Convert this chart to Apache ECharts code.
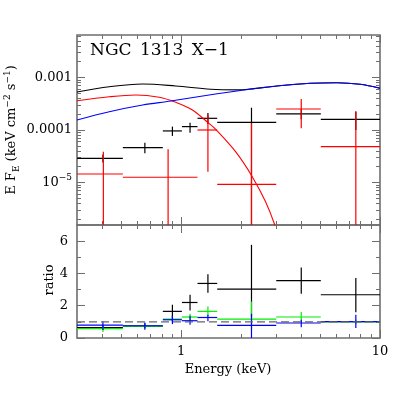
<!DOCTYPE html>
<html lang="en">
<head>
<meta charset="UTF-8">
<title>NGC 1313 X-1</title>
<script src="https://cdn.jsdelivr.net/npm/echarts@6.0.0/dist/echarts.min.js"></script>
<style>
  html, body { margin: 0; padding: 0; background: #fff; }
  #chart { width: 415px; height: 415px; }
</style>
</head>
<body>
<div id="chart"></div>
<script>
// energy bins (keV) of the black spectrum, also used by the ratio panel
var binLo  = [0.30, 0.51, 0.81, 1.01, 1.21, 1.52, 3.01, 5.04];
var binHi  = [0.51, 0.81, 1.01, 1.21, 1.52, 3.01, 5.04, 10.0];
var binMid = [0.405, 0.658, 0.905, 1.11, 1.365, 2.26, 4.02, 7.56];

// E F_E, black data (value, lower, upper); 1e-6 = runs off the bottom
var blackFlux = [2.89e-5, 4.6e-5, 9.6e-5, 1.16e-4, 1.67e-4, 1.40e-4, 2.02e-4, 1.6e-4];
var blackLow  = [2.4e-5, 3.6e-5, 7.7e-5, 8.9e-5, 1.3e-4, 1e-6, 1.6e-4, 1.0e-4];
var blackHigh = [3.4e-5, 5.73e-5, 1.16e-4, 1.38e-4, 2.1e-4, 2.66e-4, 2.5e-4, 2.2e-4];

// red data has coarser bins
var redBinLo  = [0.30, 0.51, 1.21, 1.52, 3.01, 5.04];
var redBinHi  = [0.51, 1.21, 1.52, 3.01, 5.04, 10.0];
var redBinMid = [0.407, 0.861, 1.365, 2.26, 4.02, 7.56];
var redFlux = [1.45e-5, 1.26e-5, 1.0e-4, 9.2e-6, 2.51e-4, 4.81e-5];
var redLow  = [1e-6, 1e-6, 1.61e-5, 1e-6, 1.08e-4, 1e-6];
var redHigh = [3.86e-5, 4.28e-5, 1.92e-4, 1.34e-4, 3.89e-4, 2.3e-4];

// model curves
var totalE = [0.3, 0.436, 0.641, 0.941, 1.41, 1.92, 2.32, 3.04, 4.46, 6.07, 7.94, 10];
var totalModel = [5.3e-4, 6.68e-4, 7.52e-4, 6.88e-4, 5.96e-4, 5.8e-4, 6.15e-4, 6.9e-4, 7.76e-4, 7.96e-4, 7.42e-4, 6.22e-4];
var diskE = [0.3, 0.436, 0.593, 0.776, 0.941, 1.14, 1.38, 1.49, 1.88, 2.28, 2.66, 2.96, 3.1];
var diskModel = [3.61e-4, 4.30e-4, 4.64e-4, 4.20e-4, 3.37e-4, 2.41e-4, 1.34e-4, 1.04e-4, 3.86e-5, 1.29e-5, 4.3e-6, 1.55e-6, 8e-7];
var powE = [0.3, 0.436, 0.641, 0.888, 1.49, 2.07, 3.04, 4.46, 6.07, 7.94, 10];
var powModel = [1.55e-4, 2.23e-4, 2.99e-4, 3.56e-4, 4.85e-4, 5.78e-4, 6.89e-4, 7.76e-4, 7.96e-4, 7.42e-4, 6.22e-4];

// ratio panel
var ratioBlack     = [0.65, 0.74, 1.65, 2.2, 3.38, 3.03, 3.56, 2.68];
var ratioBlackLow  = [0.5, 0.6, 1.03, 1.71, 2.8, 1.3, 2.74, 1.6];
var ratioBlackHigh = [0.8, 0.9, 2.06, 2.68, 3.95, 5.77, 4.37, 3.72];
var ratioGreen     = [0.58, 0.74, 1.17, 1.3, 1.65, 1.17, 1.3, 1.0];
var ratioGreenLow  = [0.37, 0.6, 1.0, 1.1, 1.34, 0.5, 0.99, 0.85];
var ratioGreenHigh = [0.72, 0.88, 1.35, 1.5, 1.95, 2.26, 1.61, 1.15];
var ratioBlue      = [0.8, 0.76, 1.13, 1.07, 1.27, 0.78, 0.93, 1.01];
var ratioBlueLow   = [0.51, 0.51, 0.86, 0.82, 1.03, 0, 0.66, 0.62];
var ratioBlueHigh  = [1.03, 0.96, 1.38, 1.38, 1.44, 1.5, 1.13, 1.44];
var unityE = [0.3, 10];
var unityRatio = [1, 1];

// ticks
var energyMajor = [1, 10];
var energyMinor = [0.4, 0.5, 0.6, 0.7, 0.8, 0.9, 2, 3, 4, 5, 6, 7, 8, 9];
var energyLabels = ['1', '10'];
var fluxMajor = [1e-5, 1e-4, 1e-3];
var fluxMinor = [2e-6, 3e-6, 4e-6, 5e-6, 6e-6, 7e-6, 8e-6, 9e-6,
                 2e-5, 3e-5, 4e-5, 5e-5, 6e-5, 7e-5, 8e-5, 9e-5,
                 2e-4, 3e-4, 4e-4, 5e-4, 6e-4, 7e-4, 8e-4, 9e-4,
                 2e-3, 3e-3, 4e-3, 5e-3, 6e-3];
var fluxLabels = ['10{sup|\u22125}', '0.0001', '0.001'];
var ratioMajor = [0, 2, 4, 6];
var ratioMinor = [1, 3, 5];

var FONT = 'DejaVu Serif';
var AXIS = '#6e6e6e';

function zip(mid, lo, hi, y, ylo, yhi) {
    return mid.map(function (m, i) { return [m, y[i], lo[i], hi[i], ylo[i], yhi[i]]; });
}
function pairs(xs, ys) {
    return xs.map(function (x, i) { return [x, ys[i]]; });
}

function crossSeries(name, data, color, axisIdx) {
    return {
        name: name, type: 'custom', xAxisIndex: axisIdx, yAxisIndex: axisIdx,
        encode: { x: 0, y: 1 },
        data: data,
        renderItem: function (params, api) {
            var cs = params.coordSys;
            var clampY = function (v) { return Math.max(cs.y, Math.min(cs.y + cs.height, v)); };
            var c = api.coord([api.value(0), api.value(1)]);
            var l = api.coord([api.value(2), api.value(1)]);
            var r = api.coord([api.value(3), api.value(1)]);
            var lo = api.coord([api.value(0), api.value(4)]);
            var hi = api.coord([api.value(0), api.value(5)]);
            var st = { stroke: color, lineWidth: 1.2 };
            return { type: 'group', children: [
                { type: 'line', shape: { x1: l[0], y1: c[1], x2: r[0], y2: c[1] }, style: st },
                { type: 'line', shape: { x1: c[0], y1: clampY(lo[1]), x2: c[0], y2: clampY(hi[1]) }, style: st }
            ] };
        }
    };
}

function modelLine(name, xs, ys, color) {
    return {
        name: name, type: 'line', xAxisIndex: 0, yAxisIndex: 0,
        data: pairs(xs, ys), showSymbol: false, smooth: 0.35, clip: true,
        lineStyle: { color: color, width: 1.1 }
    };
}

function tickAxis(kind, grid, pos, ticks, len, extra) {
    var ax = {
        type: kind, gridIndex: grid, position: pos,
        axisLine: { show: false, onZero: false },
        splitLine: { show: false },
        axisTick: { show: true, inside: true, length: len, customValues: ticks,
                    lineStyle: { color: AXIS, width: 1 } },
        axisLabel: { show: false }
    };
    return Object.assign(ax, extra);
}

var xRange = { min: 0.3, max: 10, logBase: 10 };
var fluxRange = { min: 1.55e-6, max: 6.45e-3, logBase: 10 };
var ratioRange = { min: 0, max: 7 };

var xAxes = [];
var yAxes = [];
[0, 1].forEach(function (g) {
    xAxes.push(tickAxis('log', g, 'bottom', energyMajor, 8, Object.assign({}, xRange, g === 1 ? {
        axisLabel: { show: true, customValues: energyMajor, margin: 7, color: '#000',
                     fontFamily: FONT, fontSize: 13,
                     formatter: function (v) { return energyLabels[energyMajor.indexOf(v)] || ''; } }
    } : {})));
    xAxes.push(tickAxis('log', g, 'bottom', energyMinor, 4, xRange));
    xAxes.push(tickAxis('log', g, 'top', energyMajor, 8, xRange));
    xAxes.push(tickAxis('log', g, 'top', energyMinor, 4, xRange));
});
// top panel: flux (log)
yAxes.push(tickAxis('log', 0, 'left', fluxMajor, 8, Object.assign({}, fluxRange, {
    axisLabel: { show: true, customValues: fluxMajor, margin: 5, color: '#000',
                 fontFamily: FONT, fontSize: 13, lineHeight: 18,
                 rich: { sup: { fontFamily: FONT, fontSize: 9, lineHeight: 9, verticalAlign: 'top' } },
                 formatter: function (v) {
                     var k = Math.round(Math.log10(v));
                     return fluxLabels[fluxMajor.findIndex(function (m) { return Math.round(Math.log10(m)) === k; })] || '';
                 } }
})));
yAxes.push(tickAxis('log', 0, 'left', fluxMinor, 4, fluxRange));
yAxes.push(tickAxis('log', 0, 'right', fluxMajor, 8, fluxRange));
yAxes.push(tickAxis('log', 0, 'right', fluxMinor, 4, fluxRange));
// bottom panel: ratio
yAxes.push(tickAxis('value', 1, 'left', ratioMajor, 8, Object.assign({}, ratioRange, {
    axisLabel: { show: true, customValues: ratioMajor, margin: 9, color: '#000',
                 fontFamily: FONT, fontSize: 13 }
})));
yAxes.push(tickAxis('value', 1, 'left', ratioMinor, 4, ratioRange));
yAxes.push(tickAxis('value', 1, 'right', ratioMajor, 8, ratioRange));
yAxes.push(tickAxis('value', 1, 'right', ratioMinor, 4, ratioRange));

var chart = echarts.init(document.getElementById('chart'), null, { renderer: 'canvas' });

chart.setOption({
    animation: false,
    backgroundColor: '#fff',
    textStyle: { fontFamily: FONT },
    grid: [
        { left: 77, top: 35, width: 303, height: 190, show: true, borderColor: AXIS, borderWidth: 1.6,
          backgroundColor: 'transparent', outerBoundsMode: 'none' },
        { left: 77, top: 225, width: 303, height: 113, show: true, borderColor: AXIS, borderWidth: 1.6,
          backgroundColor: 'transparent', outerBoundsMode: 'none' }
    ],
    xAxis: xAxes,
    yAxis: yAxes,
    graphic: [
        { type: 'text', left: 90, top: 42, style: { text: 'NGC\u20021313\u2002X\u22121', font: '17px "DejaVu Serif"', fill: '#000' } },
        { type: 'text', x: 12, y: 130, rotation: Math.PI / 2,
          style: { text: 'E F{sub|E} (keV cm{sup|\u22122} s{sup|\u22121})', font: '13px "DejaVu Serif"', fill: '#000',
                   align: 'center', verticalAlign: 'middle', lineHeight: 18,
                   rich: { sub: { font: '9px "DejaVu Serif"', lineHeight: 9, verticalAlign: 'bottom' },
                           sup: { font: '9px "DejaVu Serif"', lineHeight: 9, verticalAlign: 'top' } } } },
        { type: 'text', x: 50, y: 280, rotation: Math.PI / 2,
          style: { text: 'ratio', font: '13px "DejaVu Serif"', fill: '#000', align: 'center', verticalAlign: 'middle' } },
        { type: 'text', x: 228, y: 370,
          style: { text: 'Energy (keV)', font: '13px "DejaVu Serif"', fill: '#000', align: 'center', verticalAlign: 'middle' } }
    ],
    series: [
        modelLine('total', totalE, totalModel, '#000'),
        modelLine('disk', diskE, diskModel, '#ff0000'),
        modelLine('power law', powE, powModel, '#0000ff'),
        crossSeries('black data', zip(binMid, binLo, binHi, blackFlux, blackLow, blackHigh), '#000', 0),
        crossSeries('red data', zip(redBinMid, redBinLo, redBinHi, redFlux, redLow, redHigh), '#ff0000', 0),
        {
            name: 'unity', type: 'line', xAxisIndex: 4, yAxisIndex: 4,
            data: pairs(unityE, unityRatio), showSymbol: false,
            lineStyle: { color: '#666', width: 1.3, type: [8, 4] }
        },
        crossSeries('black ratio', zip(binMid, binLo, binHi, ratioBlack, ratioBlackLow, ratioBlackHigh), '#000', 4),
        crossSeries('green ratio', zip(binMid, binLo, binHi, ratioGreen, ratioGreenLow, ratioGreenHigh), '#00ee00', 4),
        crossSeries('blue ratio', zip(binMid, binLo, binHi, ratioBlue, ratioBlueLow, ratioBlueHigh), '#0000ff', 4)
    ]
});
</script>
</body>
</html>
